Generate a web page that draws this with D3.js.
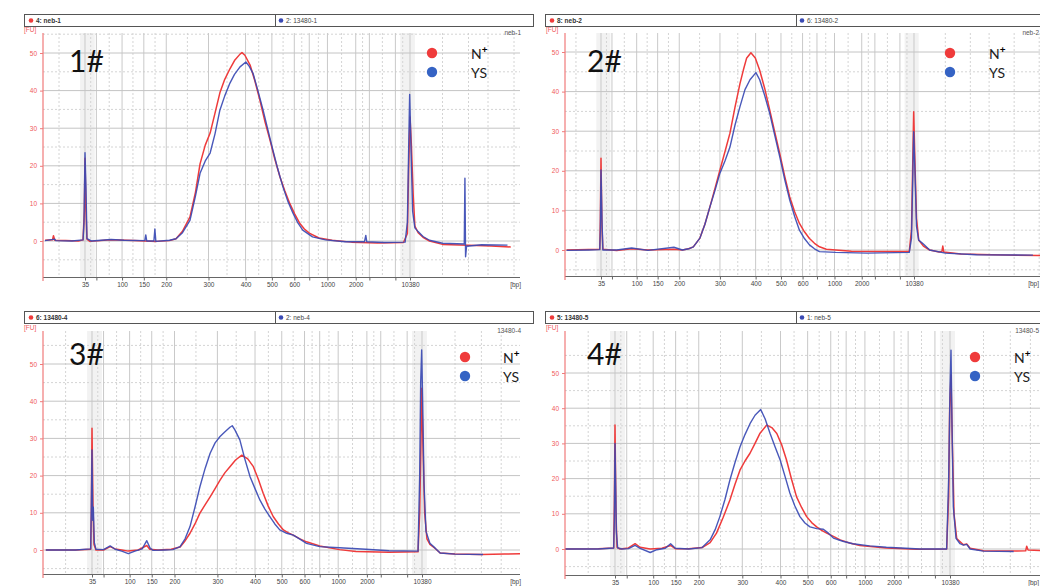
<!DOCTYPE html>
<html><head><meta charset="utf-8">
<script src="https://cdn.jsdelivr.net/npm/d3@7"></script>
<style>body{margin:0;background:#fff}svg{display:block}</style>
</head><body><svg id="c" width="1040" height="586"></svg>
<script>
// HS DNA ladder: size (bp) and relative migration time (35 bp = 0, 10380 bp = 100)
const ladderBp = [35,50,100,150,200,300,400,500,600,700,1000,2000,3000,7000,10380];
const ladderTime = [0,3.5,11.4,18.1,25,38,49.4,57.5,64.4,69,74.6,83.3,87.5,95.5,100];
const labeledBp = [35,100,150,200,300,400,500,600,1000,2000,10380];
const fuTicks = [0,10,20,30,40,50];
const panelNames = ["1#","2#","3#","4#"];
const headerRed = ["4: neb-1","8: neb-2","6: 13480-4","5: 13480-5"];
const headerBlue = ["2: 13480-1","6: 13480-2","2: neb-4","1: neb-5"];
const cornerLabel = ["neb-1","neb-2","13480-4","13480-5"];
const legendLabels = ["N","YS"];

// series: [migration time, FU]
const p1Red = [[-12.3,0.2],[-10,0.3],[-9.7,1.4],[-9.3,0.2],[-6,0.1],[-2,0],[-0.6,0.3],[-0.2,8],[0,22],[0.3,8],[0.6,0.5],[1.5,-0.1],[8,0.3],[15,0.1],[22,-0.1],[26,0.1],[28,0.6],[30,2.6],[32.3,6.4],[34,13],[35.4,20.5],[37,25.5],[38.5,28.7],[40,34],[41.5,39.4],[43,43],[44.6,45.8],[46,48],[47.7,49.7],[48.3,50.1],[49.2,49.4],[50.8,46.8],[52.3,42.5],[53.8,37.5],[55.3,32],[56.9,26.9],[58.4,21.8],[60,17],[61.5,13.3],[63,10],[64.5,7.2],[66,4.8],[67.5,3.2],[69,2.1],[72,0.8],[76,0.2],[82,-0.3],[90,-0.5],[98,-0.4],[99.2,2],[99.6,20],[100,33],[100.4,26],[101,12],[101.5,4],[102.5,2.2],[104,1],[106,0],[110,-0.9],[118,-1.1],[125,-1.3],[131,-1.6]];
const p1Blue = [[-12.3,0.1],[-9.3,0.5],[-9,0.1],[-4,0],[-0.6,0.3],[-0.3,5],[0,23.5],[0.3,14],[0.6,0.6],[2,0],[8,0.4],[12,0.2],[18.4,0.1],[18.7,1.6],[19,0],[21.2,0],[21.5,3.2],[21.8,-0.1],[26,0.2],[28,0.6],[30,2.2],[32.3,5.5],[34,12],[35.4,18],[37,21.3],[38.5,23.4],[40,28.5],[41.5,34.8],[43,38.6],[44.6,42],[46,44.3],[47.7,46.3],[49.5,47.6],[50.5,46.5],[51.7,44.6],[53.2,40],[54.8,34.8],[56.3,29.5],[57.8,24.2],[59.3,19.2],[60.9,14.4],[62.4,10.6],[64,7.4],[65.5,4.8],[67,2.9],[70,1.1],[74,0.3],[80,-0.2],[86,-0.2],[86.4,1.5],[86.7,-0.2],[92,-0.4],[98.5,-0.3],[99.2,5],[99.6,25],[99.9,39],[100.3,25],[100.8,8],[101.5,3.5],[102.5,2.5],[104,1.2],[106,0.2],[110,-0.6],[116.7,-0.8],[116.9,16.7],[117.1,-4.2],[117.4,-1.4],[122,-1.0],[130,-1.1]];
const p2Red = [[-11,0],[-4,0.1],[-0.4,0.2],[-0.2,8],[0,23.2],[0.3,6],[0.6,0.2],[5,-0.1],[9.8,0.3],[15,0],[23.3,0.2],[26,0],[28,0.3],[29.5,0.8],[31.6,3],[33.2,6.5],[34.8,10.9],[36.4,15.5],[38,20.2],[39.6,24.8],[41.2,29.5],[42.8,36],[44.4,42],[45.5,45.5],[46.5,48.4],[47.9,49.8],[49.3,48.5],[50.7,45.4],[52.3,40.8],[53.9,35.4],[55.5,29.8],[57.1,24.4],[58.7,18.6],[60.3,13.4],[61.9,9.6],[63.4,6.7],[65,4.6],[66.6,2.9],[68.2,1.7],[69.8,0.8],[72,0.2],[75,0],[80,-0.3],[90,-0.4],[98.5,-0.3],[99.2,5],[99.6,22],[99.9,34.9],[100.3,22],[100.8,8],[101.5,2.5],[103,1],[105,0],[108,-0.5],[108.9,-0.4],[109.2,1],[109.5,-0.5],[115,-1],[125,-1.2],[141,-1.4]];
const p2Blue = [[-11,-0.1],[-4,0],[-0.4,0.1],[-0.2,5],[0,20.2],[0.3,8],[0.6,0],[5,0],[9.8,0.5],[15,-0.1],[23.3,0.7],[26,0],[28,0.3],[29.5,0.8],[31.6,3],[33.2,6.5],[34.8,10.9],[36.4,15],[38,19.4],[39.6,22.5],[41.2,26],[42.8,31.5],[44.4,36.2],[46,40.5],[47.6,43],[49.5,44.8],[50.7,43],[52.3,39],[53.9,34.5],[55.5,29],[57.1,23.6],[58.7,17.8],[60.3,12.6],[61.9,8.4],[63.4,5],[65,2.9],[66.6,1.3],[68.2,0.3],[69.8,-0.4],[75,-0.6],[85,-0.8],[98.5,-0.6],[99.2,3],[99.6,18],[99.9,29.9],[100.3,20],[100.8,6],[101.5,2.5],[103,1.5],[105,0],[110,-0.8],[120,-1.2],[138,-1.3]];
const p3Red = [[-14,0],[-5,0],[-0.4,0.2],[-0.2,10],[0,32.7],[0.3,12],[0.6,1.5],[1.2,0],[3.5,0],[5.5,0.9],[7,0.3],[9,0],[11,-0.3],[14,0],[16.6,1.2],[17.5,0.2],[20,0],[24,0.2],[26.7,0.8],[28,2.2],[29.7,4.5],[31.2,7],[32.7,9.9],[34.3,12.2],[35.8,14.3],[37.3,16.5],[38.8,18.8],[40.3,20.8],[41.8,22.4],[43.5,24.2],[45.4,25.5],[47.2,24.5],[48.9,22.4],[50.4,19],[51.9,15.2],[53.4,11.8],[54.9,9],[56.5,7],[58,5.4],[59.5,4.6],[61,4],[63,3],[65,2.2],[69,1.1],[75,0.1],[80,-0.4],[90,-0.6],[98.8,-0.5],[99.3,10],[99.7,30],[99.9,43.5],[100.3,28],[100.8,10],[101.5,3],[102.4,1.5],[104,0.4],[105.5,-0.8],[110,-1.1],[118,-1.2],[125,-1.1],[130,-1]];
const p3Blue = [[-14,0],[-5,0],[-0.4,0.3],[-0.2,12],[0,26.9],[0.2,8],[0.4,11.5],[0.7,2],[1.2,0.2],[3.5,0.1],[5.5,1.1],[7,0.2],[9,-0.3],[11,-1],[13,-0.3],[15.2,0.3],[16.6,2.5],[17.6,0.5],[18.5,-0.1],[22,0],[24.5,0.1],[26.7,0.9],[28.2,3],[29.7,6.3],[31.2,11.5],[32.7,17],[34.3,22],[35.8,26],[37.3,28.8],[38.8,30.5],[40.3,31.8],[41.8,33],[42.5,33.4],[43.3,32.3],[44.8,29.6],[46.3,24.5],[47.9,19.7],[49.4,16.5],[50.9,13.4],[52.4,11],[53.9,9],[55.4,7],[56.9,5.4],[59,4.5],[61,4],[63,2.9],[65,1.8],[69,0.9],[75,0.6],[83,0.2],[90,-0.2],[98.8,-0.3],[99.3,20],[99.6,45],[99.9,53.8],[100.2,40],[100.6,18],[101.2,5],[102.4,1.8],[104,0.5],[105.5,-0.8],[110,-1.1],[118.5,-1.2]];
const p4Red = [[-15,0],[-5,0.1],[-0.4,0.3],[-0.2,12],[0,35.2],[0.3,10],[0.6,0.5],[1.5,0],[4,0.3],[6,1.5],[7.5,0.5],[10.5,0],[14,0.2],[16.6,1],[18,0.1],[22,0.1],[26,0.4],[28.4,1.8],[30.3,4.5],[32.3,9],[34.3,13.9],[35.8,18.3],[37.3,22.4],[38.8,25],[40.3,27.2],[41.8,30],[43.3,32.9],[45.3,35.2],[46.8,34.5],[48.3,32.8],[49.8,29.5],[51.2,25.3],[52.7,19.8],[54.2,14.8],[55.7,11.8],[57.2,9.2],[58.7,7.5],[60.2,6.3],[61.7,5.3],[63.2,4.5],[65.2,3.6],[67.2,2.6],[70,1.7],[73.1,1],[81,0.3],[90,-0.1],[99,0],[99.6,15],[99.9,40],[100.3,49.4],[100.7,30],[101.2,10],[102,3],[104,1.2],[105,1.4],[106,0.2],[110,-0.5],[120,-0.6],[122.6,-0.5],[122.9,0.8],[123.3,-0.3],[127,-0.4]];
const p4Blue = [[-15,0],[-5,0],[-0.4,0.3],[-0.2,8],[0,30],[0.2,18],[0.4,5],[0.8,0.3],[2,0],[4,0.1],[6,1],[7.5,0.2],[10.5,-1],[12.5,-0.2],[15,0.2],[16.6,1.5],[18,0.2],[22,0],[26,0.4],[28.4,2.6],[29.9,5.5],[31.3,9.2],[32.8,14],[34.3,19.6],[35.8,24.5],[37.3,29],[38.8,32.5],[40.3,35.6],[41.8,38],[43.5,39.6],[44.8,37],[46.3,32.8],[47.8,29],[49.3,25.3],[50.8,20.5],[52.2,15.9],[53.7,12.2],[55.2,9.2],[56.7,7.4],[58.2,6.3],[60.2,5.8],[62.2,5.6],[63.7,4.5],[65.2,3.1],[68,2.2],[71,1.5],[76,0.9],[81,0.5],[91,0],[99,0],[99.6,20],[100,45],[100.3,56.5],[100.6,35],[101,12],[101.8,3],[103,1.5],[104,1.1],[105,1.3],[106,0],[110,-0.6],[119,-0.7]];

const redSeries = [p1Red,p2Red,p3Red,p4Red];
const blueSeries = [p1Blue,p2Blue,p3Blue,p4Blue];

const RED = "#ef3b3b", BLUE = "#3a4ab4";
const layout = [
  {x0:85,x1:410,l:43,r:520,y0:241,y50:53,t:33,b:277,hy:14,hx0:24,hx1:533,hdiv:275,lab:[69,72],leg:[432,53,471],edge:522},
  {x0:601,x1:914,l:565,r:1060,y0:250,y50:52,t:33,b:276,hy:14,hx0:545,hx1:1060,hdiv:796,lab:[587,72],leg:[950,53,989],edge:1040},
  {x0:92,x1:422,l:43,r:520,y0:550,y50:364,t:331,b:574,hy:311,hx0:24,hx1:533,hdiv:275,lab:[69,365],leg:[465,357,503],edge:522},
  {x0:615,x1:950,l:565,r:1060,y0:549,y50:373,t:331,b:575,hy:311,hx0:545,hx1:1060,hdiv:796,lab:[587,365],leg:[975,357,1014],edge:1040}
];

const svg = d3.select("#c");
const bpOf = new Map(ladderTime.map((t,i)=>[t,ladderBp[i]]));
const FONT = "Liberation Sans, Arial, sans-serif";

layout.forEach((L,i)=>{
  const x = d3.scaleLinear().domain([0,100]).range([L.x0,L.x1]);
  const y = d3.scaleLinear().domain([0,50]).range([L.y0,L.y50]);
  const g = svg.append("g");
  const tL = x.invert(L.l), tR = x.invert(L.r);
  const fuB = y.invert(L.b), fuT = y.invert(L.t);

  // ladder marker bands
  [[-1.5,3],[97,101.5]].forEach(([a,b])=>{
    g.append("rect").attr("x",x(a)).attr("y",L.t).attr("width",x(b)-x(a)).attr("height",L.b-L.t)
      .attr("fill","#e8e8e8").attr("opacity",0.55);
  });
  // dotted grid
  const dotT = [];
  for (let k=0;k<ladderTime.length-1;k++) dotT.push((ladderTime[k]+ladderTime[k+1])/2);
  [-8,110,118,124,132,140].forEach(v=>dotT.push(v));
  dotT.filter(v=>v>tL && v<tR).forEach(v=>{
    g.append("line").attr("x1",x(v)).attr("x2",x(v)).attr("y1",L.t).attr("y2",L.b)
      .attr("stroke","#d4d4d4").attr("stroke-dasharray","2,2");
  });
  [-5,5,15,25,35,45,55].filter(v=>v>fuB && v<fuT).forEach(v=>{
    g.append("line").attr("x1",L.l).attr("x2",L.r).attr("y1",y(v)).attr("y2",y(v))
      .attr("stroke","#d4d4d4").attr("stroke-dasharray","2,2");
  });
  // solid grid
  ladderTime.forEach(v=>{
    g.append("line").attr("x1",x(v)).attr("x2",x(v)).attr("y1",L.t).attr("y2",L.b)
      .attr("stroke","#c9c9c9").attr("stroke-width",1);
  });
  fuTicks.forEach(v=>{
    g.append("line").attr("x1",L.l).attr("x2",L.r).attr("y1",y(v)).attr("y2",y(v))
      .attr("stroke","#c4c4c4").attr("stroke-width",1);
  });

  // header box
  g.append("rect").attr("x",L.hx0+0.5).attr("y",L.hy+0.5).attr("width",L.hx1-L.hx0).attr("height",12)
    .attr("fill","#fff").attr("stroke","#555");
  g.append("line").attr("x1",L.hdiv+0.5).attr("x2",L.hdiv+0.5).attr("y1",L.hy).attr("y2",L.hy+13).attr("stroke","#555");
  g.append("circle").attr("cx",L.hx0+7).attr("cy",L.hy+6.5).attr("r",2.3).attr("fill",RED);
  g.append("text").attr("x",L.hx0+12).attr("y",L.hy+9).text(headerRed[i])
    .attr("font-family",FONT).attr("font-size",6.5).attr("font-weight","bold").attr("fill","#333");
  g.append("circle").attr("cx",L.hdiv+6).attr("cy",L.hy+6.5).attr("r",2.3).attr("fill",BLUE);
  g.append("text").attr("x",L.hdiv+11).attr("y",L.hy+9).text(headerBlue[i])
    .attr("font-family",FONT).attr("font-size",6.5).attr("fill","#444");
  g.append("text").attr("x",L.edge-1).attr("y",L.t+2).attr("text-anchor","end").text(cornerLabel[i])
    .attr("font-family",FONT).attr("font-size",6.5).attr("fill","#555");

  // clip for data
  const cid = "clip"+i;
  svg.append("clipPath").attr("id",cid).append("rect").attr("x",L.l).attr("y",L.t).attr("width",L.r-L.l).attr("height",L.b-L.t);
  const line = d3.line().x(d=>x(d[0])).y(d=>y(d[1]));
  const dg = g.append("g").attr("clip-path",`url(#${cid})`);
  dg.append("path").datum(redSeries[i]).attr("d",line).attr("fill","none").attr("stroke",RED).attr("stroke-width",1.5).attr("stroke-linejoin","round");
  dg.append("path").datum(blueSeries[i]).attr("d",line).attr("fill","none").attr("stroke",BLUE).attr("stroke-width",1.4).attr("stroke-linejoin","round").attr("opacity",0.92);

  // x axis
  g.append("line").attr("x1",L.l).attr("x2",L.r).attr("y1",L.b+0.5).attr("y2",L.b+0.5).attr("stroke","#666");
  const xa = g.append("g").attr("transform",`translate(0,${L.b+0.5})`)
    .call(d3.axisBottom(x).tickValues(ladderTime).tickSize(3).tickPadding(2)
      .tickFormat(t=>labeledBp.includes(bpOf.get(t)) ? bpOf.get(t) : ""));
  xa.select(".domain").remove();
  xa.selectAll("line").attr("stroke","#666");
  xa.selectAll("text").attr("font-family",FONT).attr("font-size",6.5).attr("fill","#444").attr("dy","0.72em");
  g.append("text").attr("x",L.edge-1).attr("y",L.b+9.5).attr("text-anchor","end").text("[bp]")
    .attr("font-family",FONT).attr("font-size",6.5).attr("fill","#444");

  // y axis
  const ya = g.append("g").attr("transform",`translate(${L.l},0)`)
    .call(d3.axisLeft(y).tickValues(fuTicks).tickSize(3));
  ya.select(".domain").remove();
  g.append("line").attr("x1",L.l).attr("x2",L.l).attr("y1",L.t).attr("y2",L.b+4).attr("stroke","#f07a7a").attr("stroke-width",1.2);
  ya.selectAll("line").attr("stroke","#f07a7a");
  ya.selectAll("text").attr("font-family",FONT).attr("font-size",6.5).attr("fill","#ef5a5a");
  g.append("text").attr("x",L.l-19).attr("y",L.t-1).text("[FU]")
    .attr("font-family",FONT).attr("font-size",6.5).attr("fill","#ef5a5a");

  // panel label
  g.append("text").attr("x",L.lab[0]).attr("y",L.lab[1]).text(panelNames[i])
    .attr("font-family","Lato, Noto Sans, sans-serif").attr("font-size",30).attr("fill","#111");

  // legend
  const [lx,ly,tx] = L.leg;
  [RED,"#3563c4"].forEach((c,k)=>{
    g.append("circle").attr("cx",lx).attr("cy",ly+k*19).attr("r",5.2).attr("fill",c);
  });
  const tN = g.append("text").attr("x",tx).attr("y",ly+5.5)
    .attr("font-family","Lato, Noto Sans, sans-serif").attr("font-size",14).attr("fill","#222");
  tN.append("tspan").text(legendLabels[0]);
  tN.append("tspan").attr("dy",-6).attr("font-size",10).attr("font-weight","bold").attr("fill","#000").text("+");
  g.append("text").attr("x",tx).attr("y",ly+19+5.5).text(legendLabels[1])
    .attr("font-family","Lato, Noto Sans, sans-serif").attr("font-size",14).attr("fill","#222");
});
</script></body></html>
